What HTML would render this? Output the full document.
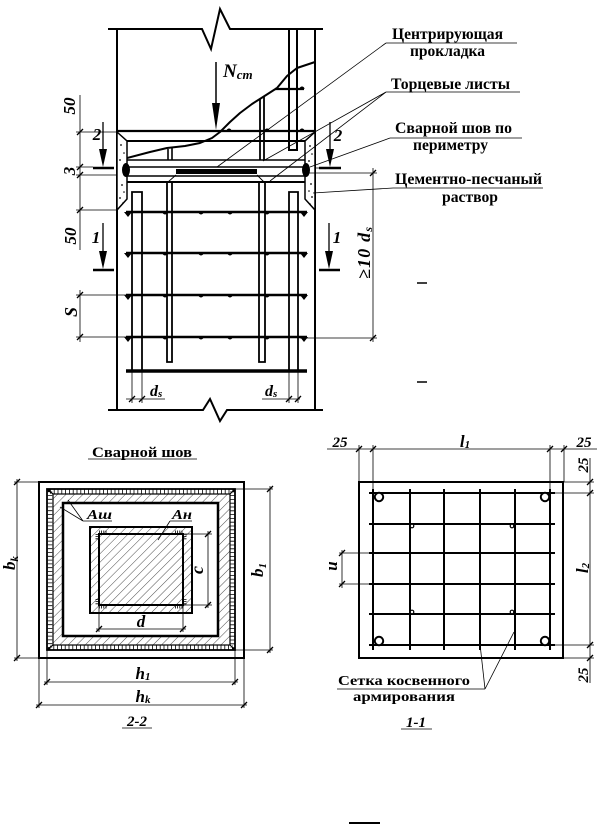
<!DOCTYPE html>
<html><head><meta charset="utf-8">
<style>
html,body{margin:0;padding:0;background:#fff;width:604px;height:825px;overflow:hidden;}
svg{display:block;}
text{font-family:"Liberation Serif","DejaVu Serif",serif;font-weight:bold;fill:#000;stroke:none;}
.i{font-style:italic;}
</style></head><body>
<svg width="604" height="825" viewBox="0 0 604 825" xmlns="http://www.w3.org/2000/svg">
<defs>
<pattern id="h" width="6" height="6" patternUnits="userSpaceOnUse" patternTransform="rotate(45)"><line x1="0" y1="0" x2="0" y2="6" stroke="#000" stroke-width="0.7"/></pattern>
</defs>
<rect x="0" y="0" width="604" height="825" fill="#fff"/>

<!-- ============ TOP: joint elevation ============ -->
<g stroke="#000" fill="none">
<polyline points="108,29 202,29 211,49 220,9 230,29 323,29" stroke-width="2"/>
<line x1="117" y1="29" x2="117" y2="410" stroke-width="2"/>
<line x1="315" y1="29" x2="315" y2="410" stroke-width="2"/>
<polyline points="108,410 203,410 210,399 220,421 227,410 323,410" stroke-width="2"/>

<!-- upper element -->
<path d="M289,29V150H297V29" stroke-width="2"/>
<line x1="275" y1="89" x2="304" y2="89" stroke-width="2.2"/>
<polyline points="127,158 150,152 167,148 185,146 200,143 212,138 220,132 230,122 240,113 252,104 263,97 277,88 287,76 297,68 315,62" stroke-width="2" stroke-linejoin="round"/>
<line x1="260" y1="99" x2="260" y2="160" stroke-width="1.8"/>
<line x1="264" y1="96" x2="264" y2="160" stroke-width="1.8"/>
<line x1="117" y1="131" x2="315" y2="131" stroke-width="2.2"/>
<line x1="127" y1="141" x2="305" y2="141" stroke-width="2"/>
<line x1="168" y1="149" x2="168" y2="160" stroke-width="1.6"/>
<line x1="172" y1="148" x2="172" y2="160" stroke-width="1.6"/>
<line x1="125" y1="160" x2="307" y2="160" stroke-width="1.6"/>
<line x1="117" y1="167" x2="315" y2="167" stroke-width="1.6"/>
<line x1="117" y1="176" x2="315" y2="176" stroke-width="1.6"/>
<line x1="125" y1="182" x2="307" y2="182" stroke-width="2"/>
<path d="M176,175L168,182 M257,175L264,182" stroke-width="0.9"/>

<!-- lower element bars -->
<path d="M132,372V192H142V372" stroke-width="1.8"/>
<path d="M289,372V192H298V372" stroke-width="1.8"/>
<path d="M167,182V362H172V182" stroke-width="1.8"/>
<path d="M259,182V362H265V182" stroke-width="1.8"/>
<g stroke-width="2.4">
<line x1="126" y1="212" x2="307" y2="212"/>
<line x1="126" y1="253" x2="307" y2="253"/>
<line x1="126" y1="295" x2="307" y2="295"/>
<line x1="126" y1="337" x2="307" y2="337"/>
</g>
<line x1="126" y1="371" x2="307" y2="371" stroke-width="3.6"/>
</g>

<!-- pad, welds -->
<rect x="176" y="169" width="81" height="5" fill="#000"/>

<!-- mortar -->
<polygon points="117,132 127,141 127,199 117,210" fill="#fff" stroke="#000" stroke-width="1.5"/>
<polygon points="315,132 305,141 305,199 315,210" fill="#fff" stroke="#000" stroke-width="1.5"/>
<ellipse cx="126" cy="170" rx="4" ry="7" fill="#000"/>
<ellipse cx="306" cy="170" rx="4" ry="7" fill="#000"/>
<g fill="#000">
<circle cx="121" cy="145" r="0.9"/><circle cx="124" cy="153" r="0.8"/><circle cx="120" cy="160" r="0.9"/>
<circle cx="122" cy="185" r="0.9"/><circle cx="124" cy="192" r="0.8"/><circle cx="120" cy="198" r="0.9"/><circle cx="123" cy="203" r="0.8"/>
<circle cx="310" cy="146" r="0.9"/><circle cx="312" cy="154" r="0.8"/><circle cx="309" cy="161" r="0.9"/>
<circle cx="311" cy="184" r="0.9"/><circle cx="309" cy="191" r="0.8"/><circle cx="312" cy="197" r="0.9"/><circle cx="310" cy="204" r="0.8"/>
</g>

<!-- mesh dots -->
<g fill="#000">
<path d="M226.5,131A2.5,2.5 0 0 1 231.5,131Z"/>
<path d="M264.5,131A2.5,2.5 0 0 1 269.5,131Z"/>
<path d="M299.5,131A2.5,2.5 0 0 1 304.5,131Z"/>
<path d="M299.5,89A2.5,2.5 0 0 1 304.5,89Z"/>
<path d="M124,212h8l-4,5z M162.5,212A2.5,2.5 0 0 0 167.5,212Z M198.5,212A2.5,2.5 0 0 0 203.5,212Z M227.5,212A2.5,2.5 0 0 0 232.5,212Z M264.5,212A2.5,2.5 0 0 0 269.5,212Z M300,212h8l-4,5z"/>
<path d="M124,253h8l-4,5z M162.5,253A2.5,2.5 0 0 0 167.5,253Z M198.5,253A2.5,2.5 0 0 0 203.5,253Z M227.5,253A2.5,2.5 0 0 0 232.5,253Z M264.5,253A2.5,2.5 0 0 0 269.5,253Z M300,253h8l-4,5z"/>
<path d="M124,295h8l-4,5z M162.5,295A2.5,2.5 0 0 0 167.5,295Z M198.5,295A2.5,2.5 0 0 0 203.5,295Z M227.5,295A2.5,2.5 0 0 0 232.5,295Z M264.5,295A2.5,2.5 0 0 0 269.5,295Z M300,295h8l-4,5z"/>
<path d="M124,337h8l-4,5z M162.5,337A2.5,2.5 0 0 0 167.5,337Z M198.5,337A2.5,2.5 0 0 0 203.5,337Z M227.5,337A2.5,2.5 0 0 0 232.5,337Z M264.5,337A2.5,2.5 0 0 0 269.5,337Z M300,337h8l-4,5z"/>
</g>

<!-- N arrow -->
<line x1="216" y1="62" x2="216" y2="106" stroke="#000" stroke-width="1.5"/>
<polygon points="212,103 220,103 216,130" fill="#000"/>
<text x="223" y="77" class="i" font-size="19">N<tspan font-size="13" dy="2">ст</tspan></text>

<!-- section arrows -->
<g stroke="#000">
<line x1="103" y1="122" x2="103" y2="152" stroke-width="1.3"/>
<line x1="330" y1="122" x2="330" y2="152" stroke-width="1.3"/>
<line x1="103" y1="223" x2="103" y2="253" stroke-width="1.3"/>
<line x1="329" y1="223" x2="329" y2="253" stroke-width="1.3"/>
<line x1="93" y1="168" x2="114" y2="168" stroke-width="2.6"/>
<line x1="319" y1="168" x2="341" y2="168" stroke-width="2.6"/>
<line x1="93" y1="270" x2="114" y2="270" stroke-width="2.6"/>
<line x1="319" y1="270" x2="340" y2="270" stroke-width="2.6"/>
</g>
<g fill="#000">
<polygon points="99,149 107,149 103,167"/>
<polygon points="326,149 334,149 330,167"/>
<polygon points="99,251 107,251 103,269"/>
<polygon points="325,251 333,251 329,269"/>
</g>
<text x="97" y="140" class="i" font-size="17" text-anchor="middle">2</text>
<text x="338" y="141" class="i" font-size="17" text-anchor="middle">2</text>
<text x="96" y="243" class="i" font-size="17" text-anchor="middle">1</text>
<text x="337" y="243" class="i" font-size="17" text-anchor="middle">1</text>

<!-- dims top section -->
<g stroke="#000" fill="none" stroke-width="0.8">
<path d="M80,95V250 M80,290V342 M76,132H117 M76,167H93 M76,175H117 M76,210H117 M76,295H127 M76,337H127 M315,168H319"/>
<path d="M373,168V342 M308,173H377 M300,338H377"/>
<path d="M126,399H165 M262,399H300 M132,372V403 M142,372V403 M289,372V403 M298,372V403"/>
<path stroke-width="1.3" d="M77,135L83,129 M77,170L83,164 M77,178L83,172 M77,213L83,207 M77,298L83,292 M77,340L83,334 M370,176L376,170 M370,341L376,335 M129,402L135,396 M139,402L145,396 M286,402L292,396 M295,402L301,396"/>
<!-- leaders -->
<path d="M386,43H517 M386,43L217,167 M386,92H520 M386,92L263,161 M386,92L270,181 M390,138H522 M390,138L310,167 M393,188H543 M393,188L313,193"/>
</g>
<g stroke="#000" stroke-width="1.5"><path d="M417,283H427 M417,382H427"/></g>

<text transform="translate(75,106) rotate(-90)" text-anchor="middle" class="i" font-size="17">50</text>
<text transform="translate(75,171) rotate(-90)" text-anchor="middle" class="i" font-size="17">3</text>
<text transform="translate(76,236) rotate(-90)" text-anchor="middle" class="i" font-size="17">50</text>
<text transform="translate(77,312) rotate(-90)" text-anchor="middle" class="i" font-size="18">S</text>
<text transform="translate(370,253) rotate(-90)" text-anchor="middle" class="i" font-size="18" textLength="52" lengthAdjust="spacing">≥10 d<tspan font-size="12" dy="2">s</tspan></text>
<text x="150" y="396" class="i" font-size="16">d<tspan font-size="11" dy="1">s</tspan></text>
<text x="265" y="396" class="i" font-size="16">d<tspan font-size="11" dy="1">s</tspan></text>

<!-- labels -->
<text x="392" y="39" font-size="16" textLength="111" lengthAdjust="spacingAndGlyphs">Центрирующая</text>
<text x="410" y="56" font-size="16" textLength="75" lengthAdjust="spacingAndGlyphs">прокладка</text>
<text x="391" y="89" font-size="16" textLength="119" lengthAdjust="spacingAndGlyphs">Торцевые листы</text>
<text x="395" y="133" font-size="16" textLength="117" lengthAdjust="spacingAndGlyphs">Сварной шов по</text>
<text x="413" y="150" font-size="16" textLength="75" lengthAdjust="spacingAndGlyphs">периметру</text>
<text x="395" y="184" font-size="16" textLength="147" lengthAdjust="spacingAndGlyphs">Цементно-песчаный</text>
<text x="442" y="202" font-size="16" textLength="56" lengthAdjust="spacingAndGlyphs">раствор</text>

<!-- ============ 2-2 ============ -->
<text x="92" y="457" font-size="14.5" textLength="100" lengthAdjust="spacingAndGlyphs">Сварной шов</text>
<path d="M53,494H230V645H53Z M63,503V636H218V503Z" fill="url(#h)" fill-rule="evenodd"/>
<rect x="90" y="527" width="102" height="86" fill="url(#h)"/>
<g stroke="#000" fill="none">
<rect x="39" y="482" width="205" height="176" stroke-width="2"/>
<rect x="50" y="491.5" width="182.5" height="156" stroke-width="4.5" stroke-dasharray="0.8 3"/>
<rect x="47" y="489" width="188" height="161" stroke-width="1.8"/>
<rect x="53" y="494" width="177" height="151" stroke-width="1.2"/>
<path d="M47,489L53,494 M235,489L230,494 M47,650L53,645 M235,650L230,645" stroke-width="1.2"/>
<rect x="63" y="503" width="155" height="133" stroke-width="2.5"/>
<rect x="90" y="527" width="102" height="86" stroke-width="2"/>
<rect x="99" y="534" width="84" height="71" stroke-width="2"/>
<path d="M99,532H107 M175,532H183 M99,607H107 M175,607H183" stroke-width="3" stroke-dasharray="0.8 1.4"/>
<path d="M97,534V540 M185,534V540 M97,599V605 M185,599V605" stroke-width="3" stroke-dasharray="0.8 1.4"/>
<g stroke-width="0.8">
<path d="M88,459H197"/>
<path d="M208,531V608 M183,534H212 M183,605H212"/>
<path d="M96,629H186 M99,605V632 M183,605V632"/>
<path d="M270,486V653 M235,489H273 M235,650H273"/>
<path d="M17,479V661 M14,482H39 M14,658H39"/>
<path d="M44,682H238 M47,650V685 M235,650V685"/>
<path d="M36,705H247 M39,658V708 M244,658V708"/>
<path d="M83,521H112 M83,521L60,507 M83,521L68,500 M170,521H192 M170,521L158,540"/>
<path d="M122,728H152"/>
</g>
<path stroke-width="1.3" d="M205,537L211,531 M205,608L211,602 M96,632L102,626 M180,632L186,626 M267,492L273,486 M267,653L273,647 M14,485L20,479 M14,661L20,655 M44,685L50,679 M232,685L238,679 M36,708L42,702 M241,708L247,702"/>
</g>
<rect x="85" y="509" width="28" height="11" fill="#fff"/>
<rect x="171" y="509" width="22" height="11" fill="#fff"/>
<text x="87" y="519" class="i" font-size="14" textLength="25" lengthAdjust="spacingAndGlyphs">Аш</text>
<text x="172" y="519" class="i" font-size="14" textLength="20" lengthAdjust="spacingAndGlyphs">Ан</text>
<text transform="translate(203,570) rotate(-90)" text-anchor="middle" class="i" font-size="18">c</text>
<text x="141" y="627" class="i" font-size="17" text-anchor="middle">d</text>
<text transform="translate(263,570) rotate(-90)" text-anchor="middle" class="i" font-size="17">b<tspan font-size="11" dy="3">1</tspan></text>
<text transform="translate(15,563) rotate(-90)" text-anchor="middle" class="i" font-size="17">b<tspan font-size="11" dy="3">k</tspan></text>
<text x="143" y="679" class="i" font-size="17" text-anchor="middle">h<tspan font-size="11" dy="1">1</tspan></text>
<text x="143" y="702" class="i" font-size="17" text-anchor="middle">h<tspan font-size="11" dy="1">k</tspan></text>
<text x="137" y="726" class="i" font-size="15" text-anchor="middle">2-2</text>

<!-- ============ 1-1 ============ -->
<g stroke="#000" fill="none">
<rect x="359" y="482" width="204" height="176" stroke-width="2"/>
<g stroke-width="2">
<path d="M373,489V650 M410,489V650 M444,489V650 M480,489V650 M515,489V650 M550,489V650"/>
<path d="M369,493H555 M369,524H555 M369,553H555 M369,584H555 M369,614H555 M369,645H555"/>
</g>
<g fill="#fff" stroke-width="2">
<circle cx="379" cy="497" r="4.2"/><circle cx="545" cy="497" r="4.2"/>
<circle cx="379" cy="641" r="4.2"/><circle cx="545" cy="641" r="4.2"/>
</g>
<g fill="#fff" stroke-width="1.2">
<circle cx="412" cy="526" r="1.8"/><circle cx="512" cy="526" r="1.8"/>
<circle cx="412" cy="612" r="1.8"/><circle cx="512" cy="612" r="1.8"/>
</g>
<g stroke-width="0.8">
<path d="M327,449H597 M359,445V482 M373,445V489 M550,445V489 M564,445V482"/>
<path d="M590,458V683 M564,482H594 M555,493H594 M555,645H594 M564,658H594"/>
<path d="M342,550V588 M339,553H369 M339,584H369"/>
<path d="M337,689H485 M485,689L480,644 M485,689L514,632"/>
<path d="M401,729H432"/>
</g>
<path stroke-width="1.3" d="M356,452L362,446 M370,452L376,446 M547,452L553,446 M561,452L567,446 M587,485L593,479 M587,496L593,490 M587,648L593,642 M587,661L593,655 M339,556L345,550 M339,587L345,581"/>
</g>
<text x="340" y="447" class="i" font-size="15" text-anchor="middle">25</text>
<text x="465" y="447" class="i" font-size="17" text-anchor="middle">l<tspan font-size="11" dy="1">1</tspan></text>
<text x="584" y="447" class="i" font-size="15" text-anchor="middle">25</text>
<text transform="translate(588,465) rotate(-90)" text-anchor="middle" class="i" font-size="15">25</text>
<text transform="translate(588,568) rotate(-90)" text-anchor="middle" class="i" font-size="17">l<tspan font-size="11" dy="1">2</tspan></text>
<text transform="translate(588,675) rotate(-90)" text-anchor="middle" class="i" font-size="15">25</text>
<text transform="translate(337,566) rotate(-90)" text-anchor="middle" class="i" font-size="17">u</text>
<text x="338" y="685" font-size="14" textLength="132" lengthAdjust="spacingAndGlyphs">Сетка косвенного</text>
<text x="353" y="701" font-size="14" textLength="102" lengthAdjust="spacingAndGlyphs">армирования</text>
<text x="416" y="727" class="i" font-size="15" text-anchor="middle">1-1</text>

<line x1="349" y1="823" x2="380" y2="823" stroke="#000" stroke-width="2"/>
</svg>
</body></html>
